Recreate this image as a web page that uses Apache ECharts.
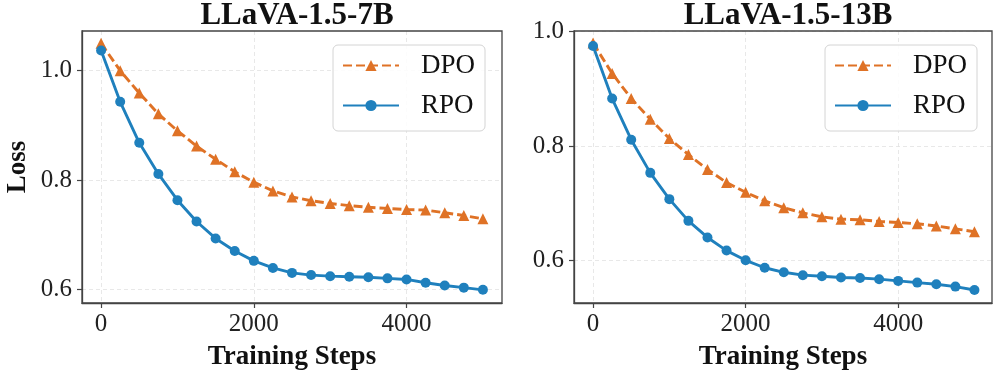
<!DOCTYPE html>
<html>
<head>
<meta charset="utf-8">
<script src="https://cdn.jsdelivr.net/npm/echarts@6/dist/echarts.min.js"></script>
<style>
html,body{margin:0;padding:0;background:#fff;}
#chart{width:996px;height:371px;}
</style>
</head>
<body>
<div id="chart"></div>
<script>
// ---- data ----
const steps = [0,250,500,750,1000,1250,1500,1750,2000,2250,2500,2750,3000,3250,3500,3750,4000,4250,4500,4750,5000];
const titles = ['LLaVA-1.5-7B', 'LLaVA-1.5-13B'];
const seriesNames = ['DPO', 'RPO'];
const dpo7b = [1.050,1.000,0.959,0.921,0.890,0.862,0.838,0.815,0.796,0.780,0.769,0.762,0.757,0.753,0.750,0.748,0.746,0.745,0.740,0.735,0.729];
const rpo7b = [1.037,0.943,0.868,0.811,0.763,0.724,0.693,0.670,0.652,0.639,0.630,0.626,0.624,0.623,0.622,0.620,0.618,0.612,0.607,0.603,0.599];
const dpo13b = [0.980,0.927,0.883,0.847,0.813,0.785,0.759,0.736,0.719,0.704,0.692,0.683,0.676,0.672,0.671,0.668,0.666,0.664,0.660,0.655,0.650];
const rpo13b = [0.975,0.883,0.811,0.753,0.707,0.669,0.640,0.617,0.600,0.587,0.579,0.574,0.572,0.570,0.569,0.567,0.564,0.561,0.558,0.554,0.548];
const xTicks = [0, 2000, 4000];
const yTicks = [0.6, 0.8, 1.0];
const xLabel = 'Training Steps';
const yLabel = 'Loss';

// ---- styles ----
const ORANGE = '#df7226';
const BLUE = '#1f80bd';
const SERIF = '"Liberation Serif", "Times New Roman", serif';
const pair = (ys) => steps.map((s, i) => [s, ys[i]]);

const grids = [
  {left: 82, top: 31, width: 420, height: 272},
  {left: 574, top: 31, width: 418, height: 272}
];
const xRanges = [[-250, 5250], [-250, 5230]];
const yRanges = [[0.5749, 1.0726], [0.5253, 1.0012]];

function xAxis(i) {
  return {
    type: 'value', gridIndex: i, min: xRanges[i][0], max: xRanges[i][1],
    name: xLabel, nameLocation: 'middle', nameGap: 41,
    nameTextStyle: {fontFamily: SERIF, fontWeight: 'bold', fontSize: 27, color: '#111'},
    axisLine: {show: true, onZero: false, lineStyle: {color: '#444', width: 1.3}},
    axisTick: {show: true, length: 5, customValues: xTicks, lineStyle: {color: '#444', width: 1.2}},
    axisLabel: {customValues: xTicks, margin: 9, fontFamily: SERIF, fontSize: 25, color: '#222',
      formatter: (v) => String(Math.round(v))},
    splitLine: {show: true, lineStyle: {color: '#e2e2e2', width: 0.8, type: [4, 3]}}
  };
}
function yAxis(i) {
  return {
    type: 'value', gridIndex: i, min: yRanges[i][0], max: yRanges[i][1],
    name: i === 0 ? yLabel : '', nameLocation: 'middle', nameGap: 50,
    nameTextStyle: {fontFamily: SERIF, fontWeight: 'bold', fontSize: 27, color: '#111'},
    axisLine: {show: true, onZero: false, lineStyle: {color: '#444', width: 1.3}},
    axisTick: {show: true, length: 5, customValues: yTicks, lineStyle: {color: '#444', width: 1.2}},
    axisLabel: {customValues: yTicks, margin: 10, fontFamily: SERIF, fontSize: 25, color: '#222',
      formatter: (v) => v.toFixed(1)},
    splitLine: {show: true, lineStyle: {color: '#e2e2e2', width: 0.8, type: [4, 3]}}
  };
}
function legend(i, left) {
  return {
    left: left, top: 45, orient: 'vertical',
    data: seriesNames,
    itemWidth: 56, itemHeight: 14, itemGap: 13,
    padding: [7, 10, 12, 9],
    backgroundColor: 'rgba(255,255,255,0.85)',
    borderColor: '#d4d4d4', borderWidth: 1, borderRadius: 5,
    textStyle: {fontFamily: SERIF, fontSize: 27, color: '#111', padding: [0, 0, 0, 17]}
  };
}
function lineSeries(name, data, gi) {
  const isDpo = name === 'DPO';
  return {
    type: 'line', name: name, xAxisIndex: gi, yAxisIndex: gi,
    data: pair(data),
    symbol: isDpo ? 'triangle' : 'circle',
    symbolSize: isDpo ? 11 : 10,
    z: isDpo ? 2 : 3,
    lineStyle: {color: isDpo ? ORANGE : BLUE, width: 2.9, type: isDpo ? [9, 4] : 'solid'},
    itemStyle: {color: isDpo ? ORANGE : BLUE, borderWidth: 0},
    emphasis: {disabled: true}
  };
}

const chart = echarts.init(document.getElementById('chart'), null, {renderer: 'canvas'});
chart.setOption({
  animation: false,
  backgroundColor: '#fff',
  title: [
    {text: titles[0], left: 292, top: -5, textAlign: 'center',
     textStyle: {fontFamily: SERIF, fontWeight: 'bold', fontSize: 31, color: '#111'}},
    {text: titles[1], left: 783, top: -5, textAlign: 'center',
     textStyle: {fontFamily: SERIF, fontWeight: 'bold', fontSize: 31, color: '#111'}}
  ],
  grid: grids.map(g => Object.assign({show: true, z: 1, outerBoundsMode: 'none', containLabel: false,
    borderColor: '#444', borderWidth: 1.3, backgroundColor: 'transparent'}, g)),
  xAxis: [xAxis(0), xAxis(1)],
  yAxis: [yAxis(0), yAxis(1)],
  legend: [legend(0, 333), legend(1, 825)],
  series: [
    lineSeries('DPO', dpo7b, 0),
    lineSeries('RPO', rpo7b, 0),
    lineSeries('DPO', dpo13b, 1),
    lineSeries('RPO', rpo13b, 1)
  ]
});
</script>
</body>
</html>
